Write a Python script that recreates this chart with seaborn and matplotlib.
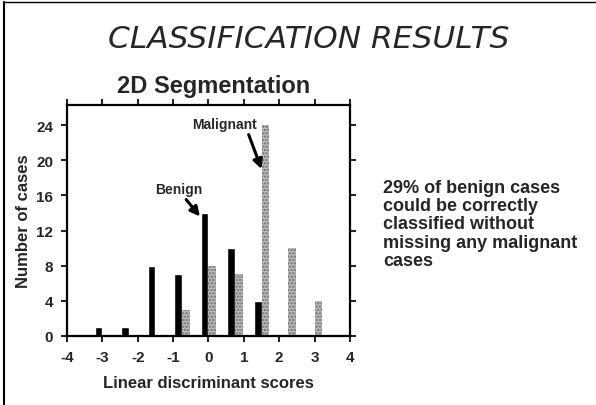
import pandas as pd
import matplotlib.pyplot as plt
import seaborn as sns

# Data
SCORES = [-3.0, -2.25, -1.5, -0.75, 0.0, 0.75, 1.5, 2.25, 3.0]
BENIGN = [1, 1, 8, 7, 14, 10, 4, 0, 0]
MALIGNANT = [0, 0, 0, 3, 8, 7, 24, 10, 4]
X_TICKS = [-4, -3, -2, -1, 0, 1, 2, 3, 4]
Y_TICKS = [0, 4, 8, 12, 16, 20, 24]

SLIDE_TITLE = "CLASSIFICATION RESULTS"
CHART_TITLE = "2D Segmentation"
NOTE = ("29% of benign cases\ncould be correctly\nclassified without\n"
        "missing any malignant\ncases")

df = pd.DataFrame({
    "score": SCORES * 2,
    "count": BENIGN + MALIGNANT,
    "group": ["Benign"] * len(SCORES) + ["Malignant"] * len(SCORES),
})

sns.set_style("ticks")
plt.rcParams["font.family"] = ["Liberation Sans", "DejaVu Sans"]
plt.rcParams["font.weight"] = "bold"
plt.rcParams["hatch.linewidth"] = 1.2

fig = plt.figure(figsize=(5.96, 4.06), dpi=100)
ax = fig.add_axes([0.1124, 0.170, 0.4748, 0.569])

sns.barplot(data=df, x="score", y="count", hue="group", native_scale=True,
            dodge=True, width=0.58, palette=["black", "#bdbdbd"],
            legend=False, ax=ax, saturation=1)

# malignant bars get the stippled grey look
for bar in ax.containers[1]:
    bar.set_hatch(".....")
    bar.set_edgecolor("#6e6e6e")
    bar.set_linewidth(0)

ax.set_xlim(-4, 4)
ax.set_ylim(0, 26.3)
ax.set_xticks(X_TICKS)
ax.set_yticks(Y_TICKS)
ax.set_xticklabels([str(t) for t in X_TICKS], fontsize=11, fontweight="bold")
ax.set_yticklabels([str(t) for t in Y_TICKS], fontsize=11, fontweight="bold")
ax.tick_params(direction="out", length=4, width=1.5, top=True, right=True,
               labeltop=False, labelright=False, pad=6)
for s in ax.spines.values():
    s.set_visible(True)
    s.set_linewidth(1.6)
    s.set_color("black")

ax.set_xlabel("Linear discriminant scores", fontsize=12, fontweight="bold",
              labelpad=8)
ax.set_ylabel("Number of cases", fontsize=12, fontweight="bold", labelpad=4)

arrow = dict(arrowstyle="-|>", color="black", lw=2.2, mutation_scale=14,
             shrinkA=0, shrinkB=0)
ax.annotate("Malignant", xy=(1.5, 19.0), xytext=(0.46, 24.1),
            ha="center", va="center", fontsize=10, fontweight="bold",
            arrowprops=dict(arrow, relpos=(0.85, 0.0)))
ax.annotate("Benign", xy=(-0.24, 13.6), xytext=(-0.84, 16.7),
            ha="center", va="center", fontsize=10, fontweight="bold",
            arrowprops=dict(arrow, relpos=(0.6, 0.0)))

fig.text(0.518, 0.902, SLIDE_TITLE, ha="center", va="center", fontsize=22.5,
         fontstyle="italic", fontweight="normal", family=["DejaVu Sans"])
fig.text(0.359, 0.788, CHART_TITLE, ha="center", va="center", fontsize=17,
         fontweight="bold")
fig.text(0.643, 0.446, NOTE, ha="left", va="center", fontsize=13,
         fontweight="bold", linespacing=1.1)

# slide frame (left and top edges)
fig.add_artist(plt.Line2D([0.007, 0.007], [0.0, 0.993], color="black", lw=1.5,
                          transform=fig.transFigure))
fig.add_artist(plt.Line2D([0.007, 1.0], [0.993, 0.993], color="black", lw=1.0,
                          transform=fig.transFigure))

fig.savefig("out.png", dpi=100)
